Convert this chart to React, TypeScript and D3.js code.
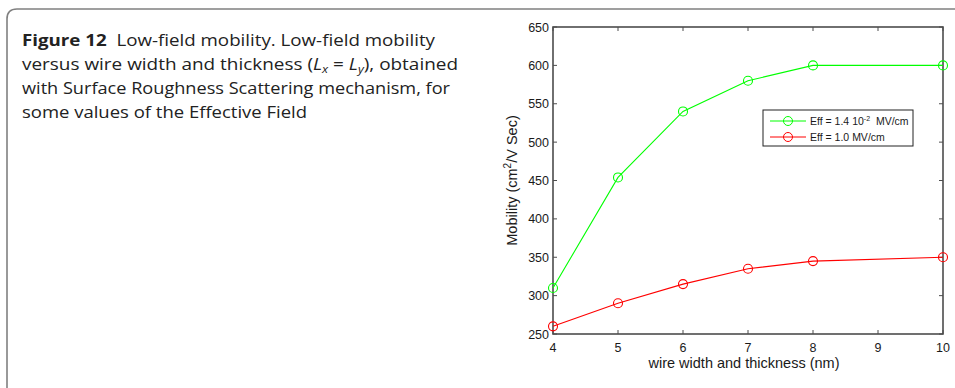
import * as d3 from 'd3';
import React, { useEffect, useRef } from 'react';

// data
const widths = [4, 5, 6, 7, 8, 10];
const mobilityLowField = [310, 454, 540, 580, 600, 600];
const mobilityHighField = [260, 290, 315, 335, 345, 350];
const xTicks = [4, 5, 6, 7, 8, 9, 10];
const yTicks = [250, 300, 350, 400, 450, 500, 550, 600, 650];
const seriesNames = ['Eff = 1.4 10', 'Eff = 1.0 MV/cm'];
const seriesColors = ['#00ff00', '#ff0000'];

const captionLines = [
  { bold: 'Figure 12', rest: '  Low-field mobility. Low-field mobility', w: 413 },
  { bold: '', rest: 'versus wire width and thickness (', w: 436 },
  { bold: '', rest: 'with Surface Roughness Scattering mechanism, for', w: 428 },
  { bold: '', rest: 'some values of the Effective Field', w: 285 },
];

export default function App() {
  const ref = useRef<SVGSVGElement>(null);

  const W = 955;
  const H = 388;
  const margin = { top: 27, right: 12, bottom: 54, left: 553 };

  useEffect(() => {
    const svg = d3.select(ref.current);
    svg.selectAll('*').remove();

    // outer frame with rounded top-left corner
    svg.append('path')
      .attr('d', `M7,${H} L7,19 Q7,9 17,9 L${W},9`)
      .attr('fill', 'none')
      .attr('stroke', '#808080')
      .attr('stroke-width', 1.6);

    // caption
    const cap = svg.append('g').attr('font-family', "'Open Sans', sans-serif").attr('font-size', 16.5).attr('fill', '#222');
    captionLines.forEach((l, i) => {
      const t = cap.append('text').attr('x', 22).attr('y', 46 + i * 24)
        .attr('textLength', l.w).attr('lengthAdjust', 'spacingAndGlyphs');
      if (i === 1) {
        t.append('tspan').text('versus wire width and thickness (');
        t.append('tspan').attr('font-style', 'italic').text('L');
        t.append('tspan').attr('font-style', 'italic').attr('font-size', 11).attr('dy', 3).text('x');
        t.append('tspan').attr('dy', -3).text(' = ');
        t.append('tspan').attr('font-style', 'italic').text('L');
        t.append('tspan').attr('font-style', 'italic').attr('font-size', 11).attr('dy', 3).text('y');
        t.append('tspan').attr('dy', -3).text('), obtained');
      } else {
        if (l.bold) t.append('tspan').attr('font-weight', 'bold').text(l.bold);
        t.append('tspan').attr('xml:space', 'preserve').text(l.rest);
      }
    });

    const x = d3.scaleLinear().domain([4, 10]).range([margin.left, W - margin.right]);
    const y = d3.scaleLinear().domain([250, 650]).range([H - margin.bottom, margin.top]);

    const g = svg.append('g').attr('font-family', 'Arial, "Liberation Sans", sans-serif');

    // plot box
    g.append('rect')
      .attr('x', x(4)).attr('y', y(650))
      .attr('width', x(10) - x(4)).attr('height', y(250) - y(650))
      .attr('fill', 'white').attr('stroke', '#4d4d4d').attr('stroke-width', 1.6);

    const tl = 4;
    // x ticks (bottom and top, inward)
    xTicks.forEach(v => {
      g.append('line').attr('x1', x(v)).attr('x2', x(v)).attr('y1', y(250)).attr('y2', y(250) - tl).attr('stroke', '#4d4d4d');
      g.append('line').attr('x1', x(v)).attr('x2', x(v)).attr('y1', y(650)).attr('y2', y(650) + tl).attr('stroke', '#4d4d4d');
      g.append('text').attr('x', x(v)).attr('y', y(250) + 18).attr('text-anchor', 'middle')
        .attr('font-size', 12.5).attr('fill', '#1a1a1a').text(v);
    });
    yTicks.forEach(v => {
      g.append('line').attr('x1', x(4)).attr('x2', x(4) + tl).attr('y1', y(v)).attr('y2', y(v)).attr('stroke', '#4d4d4d');
      g.append('line').attr('x1', x(10)).attr('x2', x(10) - tl).attr('y1', y(v)).attr('y2', y(v)).attr('stroke', '#4d4d4d');
      g.append('text').attr('x', x(4) - 4).attr('y', y(v) + 4.5).attr('text-anchor', 'end')
        .attr('font-size', 12.5).attr('fill', '#1a1a1a').text(v);
    });

    // axis labels
    g.append('text').attr('x', (x(4) + x(10)) / 2 - 4).attr('y', 368).attr('text-anchor', 'middle')
      .attr('font-size', 14.5).attr('fill', '#1a1a1a').text('wire width and thickness (nm)');
    const yl = g.append('text').attr('transform', `translate(517,${(y(250) + y(650)) / 2}) rotate(-90)`)
      .attr('text-anchor', 'middle').attr('font-size', 14.5).attr('fill', '#1a1a1a');
    yl.append('tspan').text('Mobility (cm');
    yl.append('tspan').attr('font-size', 10).attr('dy', -6).text('2');
    yl.append('tspan').attr('dy', 6).text('/V Sec)');

    // series
    const line = d3.line<number>().x((d, i) => x(widths[i])).y(d => y(d));
    [mobilityLowField, mobilityHighField].forEach((vals, si) => {
      g.append('path').attr('d', line(vals)).attr('fill', 'none')
        .attr('stroke', seriesColors[si]).attr('stroke-width', 1.1);
      g.selectAll(null).data(vals).enter().append('circle')
        .attr('cx', (d, i) => x(widths[i])).attr('cy', d => y(d)).attr('r', 4.5)
        .attr('fill', 'none').attr('stroke', seriesColors[si]).attr('stroke-width', 1.1);
    });

    // legend
    const lg = g.append('g').attr('transform', 'translate(763,110)');
    lg.append('rect').attr('width', 150).attr('height', 36).attr('fill', 'white').attr('stroke', '#222').attr('stroke-width', 1);
    seriesColors.forEach((c, i) => {
      const cy = 11 + i * 16;
      lg.append('line').attr('x1', 7).attr('x2', 43).attr('y1', cy).attr('y2', cy).attr('stroke', c);
      lg.append('circle').attr('cx', 25).attr('cy', cy).attr('r', 4.5).attr('fill', 'none').attr('stroke', c);
      const t = lg.append('text').attr('x', 47).attr('y', cy + 4).attr('font-size', 10.5).attr('fill', '#1a1a1a');
      t.append('tspan').text(seriesNames[i]);
      if (i === 0) {
        t.append('tspan').attr('font-size', 7).attr('dy', -4).text('-2');
        t.append('tspan').attr('dy', 4).attr('xml:space', 'preserve').text('  MV/cm');
      }
    });
  }, []);

  return (
    <svg ref={ref} width={W} height={H} style={{ position: 'absolute', left: 0, top: 0, background: 'white' }} />
  );
}
